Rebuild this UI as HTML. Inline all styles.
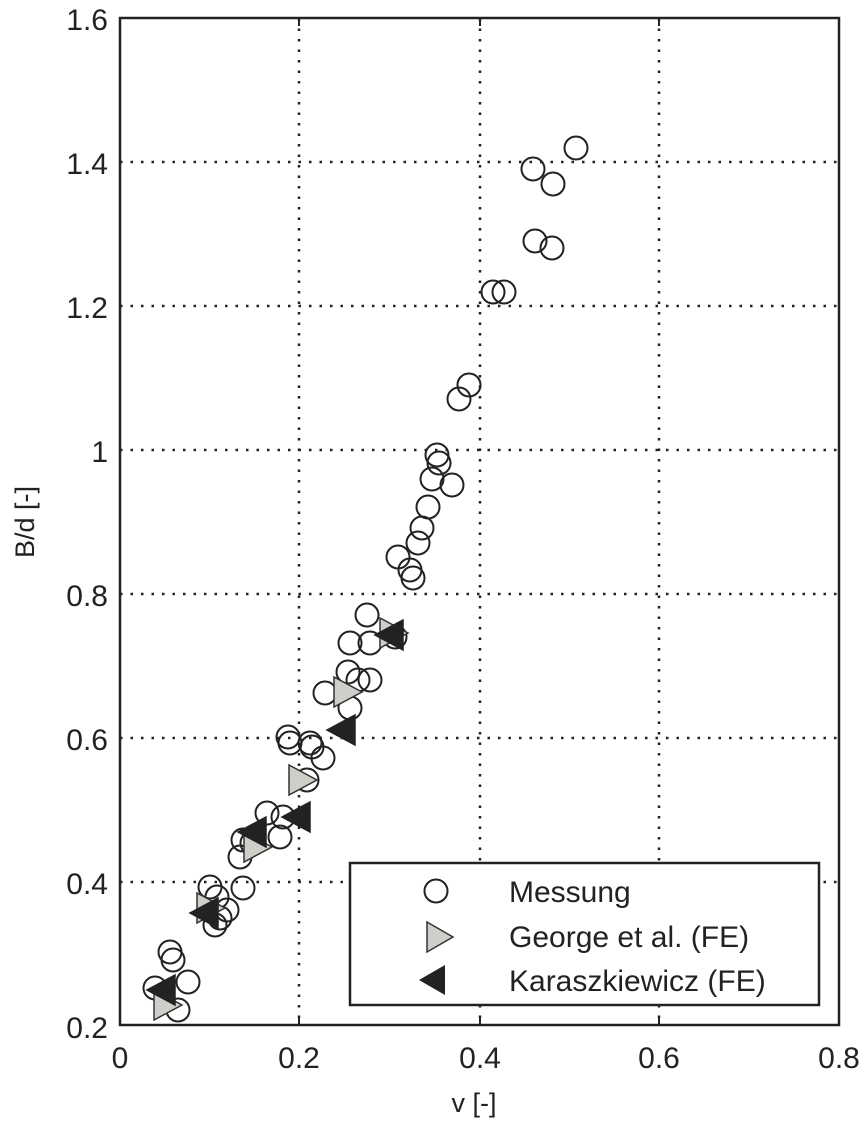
<!DOCTYPE html>
<html><head><style>html,body{margin:0;padding:0;background:#fff}</style></head><body>
<svg width="863" height="1122" xmlns="http://www.w3.org/2000/svg" font-family="Liberation Sans, Arial, sans-serif" fill="#222">
<rect x="0" y="0" width="863" height="1122" fill="#fff"/>
<g stroke="#222" stroke-width="2.5" stroke-dasharray="2.5,8" fill="none">
<line x1="299" y1="18" x2="299" y2="1025"/><line x1="480" y1="18" x2="480" y2="1025"/><line x1="659" y1="18" x2="659" y2="1025"/>
<line x1="120" y1="162" x2="839" y2="162"/><line x1="120" y1="306" x2="839" y2="306"/><line x1="120" y1="450" x2="839" y2="450"/>
<line x1="120" y1="594" x2="839" y2="594"/><line x1="120" y1="738" x2="839" y2="738"/><line x1="120" y1="882" x2="839" y2="882"/>
</g>
<g fill="none" stroke="#222" stroke-width="2">
<circle cx="576" cy="148" r="11.5"/><circle cx="533" cy="169" r="11.5"/><circle cx="553" cy="184" r="11.5"/><circle cx="535" cy="241" r="11.5"/><circle cx="552" cy="248" r="11.5"/><circle cx="493" cy="292" r="11.5"/><circle cx="504" cy="292" r="11.5"/><circle cx="469" cy="385" r="11.5"/><circle cx="459" cy="399" r="11.5"/><circle cx="437" cy="455" r="11.5"/><circle cx="439" cy="463" r="11.5"/><circle cx="432" cy="479" r="11.5"/><circle cx="452" cy="485" r="11.5"/><circle cx="428" cy="507" r="11.5"/><circle cx="422" cy="528" r="11.5"/><circle cx="418" cy="543" r="11.5"/><circle cx="398" cy="557" r="11.5"/><circle cx="410" cy="570" r="11.5"/><circle cx="413" cy="578" r="11.5"/>
<circle cx="367" cy="615" r="11.5"/><circle cx="350" cy="643" r="11.5"/><circle cx="370" cy="643" r="11.5"/><circle cx="395" cy="637" r="11.5"/><circle cx="348" cy="672" r="11.5"/><circle cx="370" cy="680" r="11.5"/><circle cx="358" cy="680" r="11.5"/><circle cx="325" cy="693" r="11.5"/><circle cx="350" cy="708" r="11.5"/>
<circle cx="288" cy="737" r="11.5"/><circle cx="290" cy="743" r="11.5"/><circle cx="310" cy="743" r="11.5"/><circle cx="312" cy="747" r="11.5"/><circle cx="323" cy="758" r="11.5"/><circle cx="307" cy="780" r="11.5"/>
<circle cx="267" cy="813" r="11.5"/><circle cx="283" cy="817" r="11.5"/><circle cx="280" cy="837" r="11.5"/><circle cx="252" cy="843" r="11.5"/><circle cx="240" cy="857" r="11.5"/><circle cx="243" cy="840" r="11.5"/>
<circle cx="210" cy="887" r="11.5"/><circle cx="243" cy="888" r="11.5"/><circle cx="217" cy="897" r="11.5"/><circle cx="227" cy="910" r="11.5"/><circle cx="215" cy="925" r="11.5"/><circle cx="220" cy="918" r="11.5"/>
<circle cx="170" cy="952" r="11.5"/><circle cx="173" cy="960" r="11.5"/><circle cx="188" cy="982" r="11.5"/><circle cx="155" cy="988" r="11.5"/><circle cx="178" cy="1010" r="11.5"/>
</g>
<g fill="#d0cec8" stroke="#333" stroke-width="1.5">
<polygon points="380,618 380,648 408,633"/><polygon points="334,677 334,707 362,692"/><polygon points="289,765 289,795 317,780"/><polygon points="244,832 244,862 272,847"/><polygon points="197,893 197,923 225,908"/><polygon points="154,990 154,1020 182,1005"/>
</g>
<g fill="#222" stroke="#222" stroke-width="1.5">
<polygon points="403,620 403,650 375,635"/><polygon points="355,715 355,745 327,730"/><polygon points="310,802 310,832 282,817"/><polygon points="266,817 266,847 238,832"/><polygon points="218,898 218,928 190,913"/><polygon points="175,975 175,1005 147,990"/>
</g>
<rect x="120" y="18" width="719" height="1007" fill="none" stroke="#222" stroke-width="2.5"/>
<g stroke="#222" stroke-width="2">
<line x1="299" y1="1025" x2="299" y2="1017"/><line x1="480" y1="1025" x2="480" y2="1017"/><line x1="659" y1="1025" x2="659" y2="1017"/>
<line x1="299" y1="18" x2="299" y2="26"/><line x1="480" y1="18" x2="480" y2="26"/><line x1="659" y1="18" x2="659" y2="26"/>
</g>
<rect x="350" y="863" width="469" height="142" fill="#fff" stroke="#222" stroke-width="2.5"/>
<circle cx="436" cy="891" r="11.5" fill="none" stroke="#222" stroke-width="2"/>
<polygon points="427,922 427,952 453,937" fill="#d0cec8" stroke="#333" stroke-width="1.5"/>
<polygon points="445,965 445,995 419,980" fill="#222"/>
<g font-size="30">
<text x="509" y="902">Messung</text>
<text x="509" y="947">George et al. (FE)</text>
<text x="509" y="991">Karaszkiewicz (FE)</text>
</g>
<g font-size="30" text-anchor="end">
<text x="108" y="30">1.6</text><text x="108" y="174">1.4</text><text x="108" y="318">1.2</text><text x="108" y="462">1</text><text x="108" y="606">0.8</text><text x="108" y="750">0.6</text><text x="108" y="894">0.4</text><text x="108" y="1038">0.2</text>
</g>
<g font-size="30" text-anchor="middle">
<text x="120" y="1068">0</text><text x="299" y="1068">0.2</text><text x="480" y="1068">0.4</text><text x="659" y="1068">0.6</text><text x="839" y="1068">0.8</text>
<text x="474" y="1112" font-size="27">v [-]</text>
</g>
<text transform="translate(34,522) rotate(-90)" font-size="27" text-anchor="middle">B/d [-]</text>
</svg>
</body></html>
